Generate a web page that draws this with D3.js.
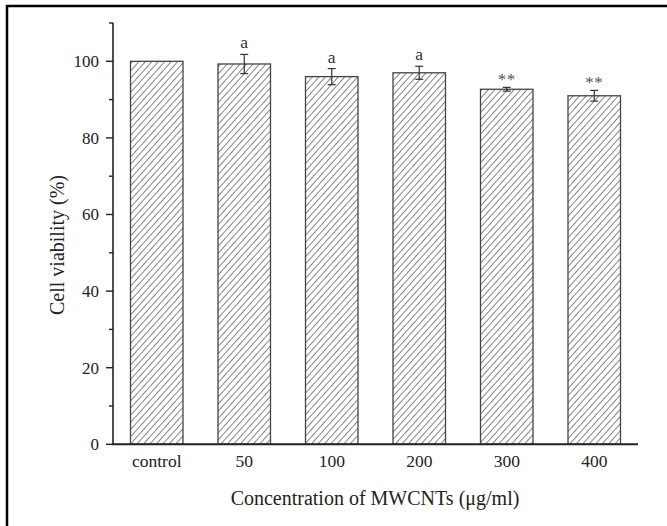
<!DOCTYPE html>
<html><head><meta charset="utf-8">
<script src="https://cdn.jsdelivr.net/npm/d3@7"></script>
<style>body{margin:0;background:#fff}svg{display:block}</style>
</head><body>
<script>
const categories = ["control","50","100","200","300","400"];
const values = [100, 99.3, 96.0, 97.0, 92.7, 91.0];
const errors = [0, 2.5, 2.1, 1.7, 0.5, 1.4];
const marks = ["", "a", "a", "a", "**", "**"];
const majorTicks = [0,20,40,60,80,100];
const minorTicks = [10,30,50,70,90,110];

const W=667,H=526;
const svg=d3.select("body").append("svg").attr("width",W).attr("height",H);
const font="'Liberation Serif','Times New Roman',serif";

// frame
svg.append("rect").attr("x",7).attr("y",6).attr("width",W+20).attr("height",H+20)
  .attr("fill","none").attr("stroke","#000").attr("stroke-width",2.5);

const defs=svg.append("defs");
const pat=defs.append("pattern").attr("id","hatch").attr("patternUnits","userSpaceOnUse")
  .attr("width",4.8).attr("height",4.8).attr("patternTransform","rotate(42)");
pat.append("line").attr("x1",0).attr("y1",0).attr("x2",0).attr("y2",4.8)
  .attr("stroke","#222").attr("stroke-width",1.1);

const x=d3.scaleBand().domain(categories).range([113,638]).paddingInner(0.4).paddingOuter(0.2);
const y=d3.scaleLinear().domain([0,110]).range([444.3,23]);

// bars
svg.selectAll("rect.bar").data(values).enter().append("rect").attr("class","bar")
  .attr("x",(d,i)=>x(categories[i])).attr("width",x.bandwidth())
  .attr("y",d=>y(d)).attr("height",d=>y(0)-y(d))
  .attr("fill","url(#hatch)").attr("stroke","#444").attr("stroke-width",1.3);

// error bars
const eg=svg.append("g").attr("stroke","#333").attr("stroke-width",1.2);
values.forEach((v,i)=>{
  if(!errors[i]) return;
  const cx=x(categories[i])+x.bandwidth()/2;
  eg.append("line").attr("x1",cx).attr("x2",cx).attr("y1",y(v+errors[i])).attr("y2",y(v-errors[i]));
  [v+errors[i],v-errors[i]].forEach(e=>eg.append("line").attr("x1",cx-4).attr("x2",cx+4).attr("y1",y(e)).attr("y2",y(e)));
});

// annotations
values.forEach((v,i)=>{
  if(!marks[i]) return;
  const cx=x(categories[i])+x.bandwidth()/2;
  const star=marks[i]==="**";
  svg.append("text").attr("x",cx).attr("y",y(v+errors[i])-(star?2:6))
    .attr("text-anchor","middle").attr("font-family",font)
    .attr("font-size",star?"17px":"17.5px").attr("fill",star?"#555":"#333")
    .attr("letter-spacing",star?"0.5px":"0")
    .text(marks[i]);
});

// y axis
const ya=svg.append("g").attr("transform","translate(113,0)");
ya.append("line").attr("x1",0).attr("x2",0).attr("y1",y(110)).attr("y2",y(0)).attr("stroke","#222").attr("stroke-width",1.6);
ya.selectAll("line.maj").data(majorTicks).enter().append("line")
  .attr("x1",-7).attr("x2",0).attr("y1",d=>y(d)).attr("y2",d=>y(d)).attr("stroke","#222").attr("stroke-width",1.4);
ya.selectAll("line.min").data(minorTicks).enter().append("line")
  .attr("x1",-4).attr("x2",0).attr("y1",d=>y(d)).attr("y2",d=>y(d)).attr("stroke","#222").attr("stroke-width",1.4);
ya.selectAll("text").data(majorTicks).enter().append("text")
  .attr("x",-14).attr("y",d=>y(d)).attr("dy","0.35em").attr("text-anchor","end")
  .attr("font-family",font).attr("font-size","17px").attr("fill","#222").text(d=>d);

// x axis
svg.append("line").attr("x1",112).attr("x2",638).attr("y1",y(0)).attr("y2",y(0)).attr("stroke","#222").attr("stroke-width",2);
svg.selectAll("text.xl").data(categories).enter().append("text").attr("class","xl")
  .attr("x",d=>x(d)+x.bandwidth()/2).attr("y",467).attr("text-anchor","middle")
  .attr("font-family",font).attr("font-size","17.5px").attr("fill","#222").text(d=>d);

svg.append("text").attr("x",375).attr("y",505).attr("text-anchor","middle")
  .attr("font-family",font).attr("font-size","20px").attr("fill","#222").text("Concentration of MWCNTs (μg/ml)");
svg.append("text").attr("transform","translate(64,245) rotate(-90)").attr("text-anchor","middle")
  .attr("font-family",font).attr("font-size","20px").attr("fill","#222").text("Cell viability (%)");
</script>
</body></html>
